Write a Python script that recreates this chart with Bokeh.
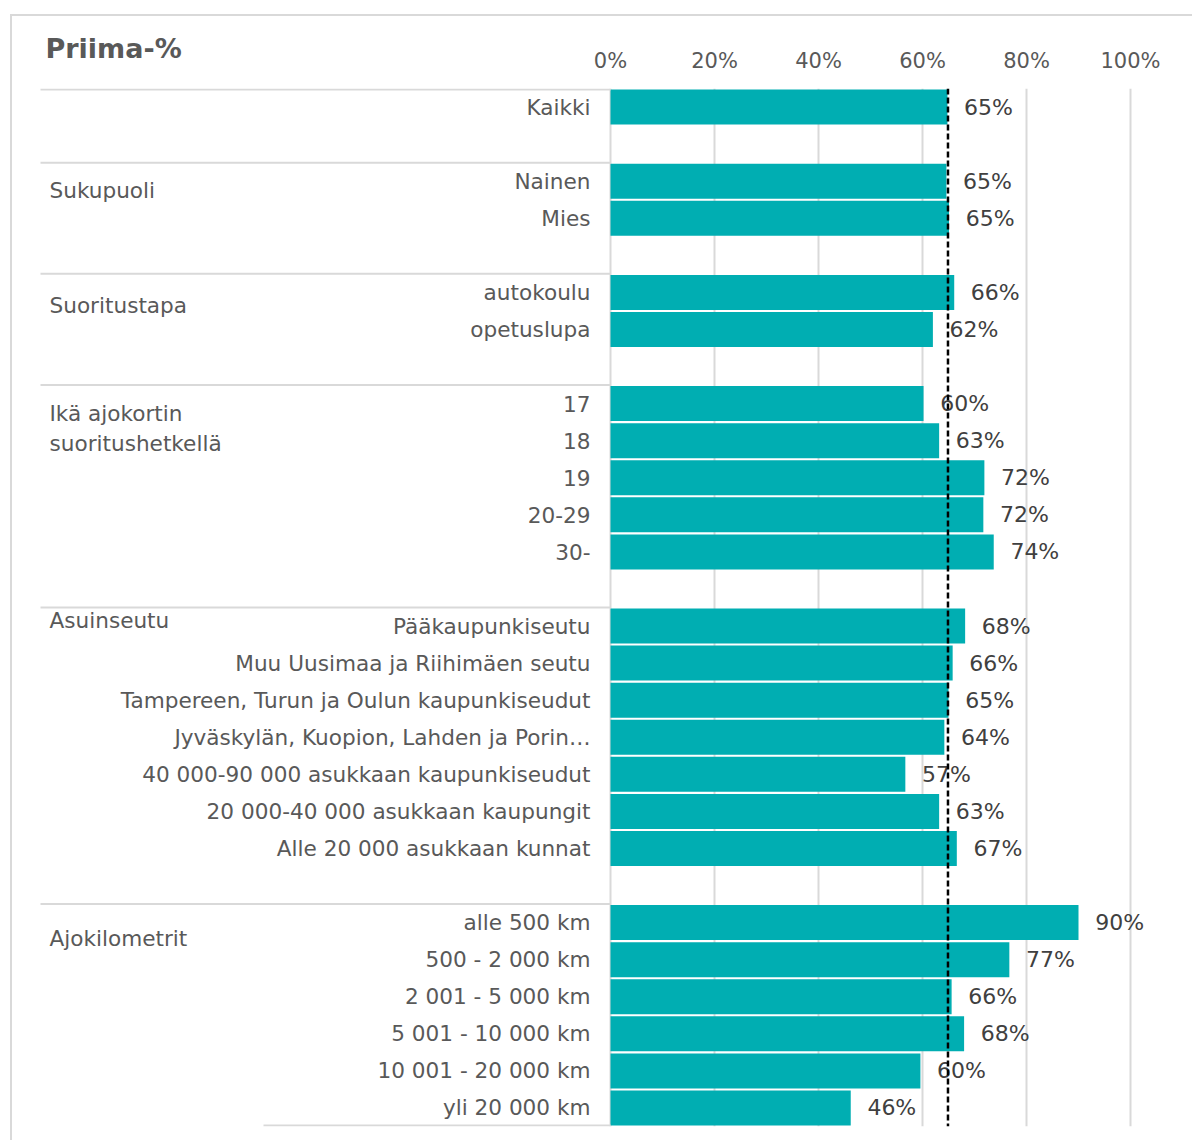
from bokeh.plotting import figure
from bokeh.models import Range1d, FixedTicker, Span, Title, ColumnDataSource
from bokeh.core.properties import value
from bokeh.embed import file_html
from bokeh.resources import INLINE

# ---------------- data ----------------
title_text = "Priima-%"
group_names = ["", "Sukupuoli", "Suoritustapa", "Ikä ajokortin\nsuoritushetkellä",
               "Asuinseutu", "Ajokilometrit"]

kaikki_cats = ["Kaikki"]
kaikki_vals = [64.8]

sukupuoli_cats = ["Nainen", "Mies"]
sukupuoli_vals = [64.6, 65.1]

suoritustapa_cats = ["autokoulu", "opetuslupa"]
suoritustapa_vals = [66.1, 62.0]

ika_cats = ["17", "18", "19", "20-29", "30-"]
ika_vals = [60.2, 63.2, 71.9, 71.7, 73.7]

asuinseutu_cats = ["Pääkaupunkiseutu", "Muu Uusimaa ja Riihimäen seutu",
                   "Tampereen, Turun ja Oulun kaupunkiseudut",
                   "Jyväskylän, Kuopion, Lahden ja Porin…",
                   "40 000-90 000 asukkaan kaupunkiseudut",
                   "20 000-40 000 asukkaan kaupungit",
                   "Alle 20 000 asukkaan kunnat"]
asuinseutu_vals = [68.2, 65.8, 65.0, 64.2, 56.7, 63.2, 66.6]

km_cats = ["alle 500 km", "500 - 2 000 km", "2 001 - 5 000 km", "5 001 - 10 000 km",
           "10 001 - 20 000 km", "yli 20 000 km"]
km_vals = [90.0, 76.7, 65.6, 68.0, 59.6, 46.2]

reference_value = 64.9
tick_values = [0, 20, 40, 60, 80, 100]
tick_labels = ["0%", "20%", "40%", "60%", "80%", "100%"]

groups = [
    (group_names[0], kaikki_cats, kaikki_vals),
    (group_names[1], sukupuoli_cats, sukupuoli_vals),
    (group_names[2], suoritustapa_cats, suoritustapa_vals),
    (group_names[3], ika_cats, ika_vals),
    (group_names[4], asuinseutu_cats, asuinseutu_vals),
    (group_names[5], km_cats, km_vals),
]

# ---------------- layout helpers (page pixel geometry) ----------------
OX, OY = 12, 16              # page position of the canvas (margin + border)
W, H = 1194 - OX, 1142 - OY
FRAME_TOP, FRAME_BOTTOM = 88, 1126   # page y of the plotting frame
PXU = 5.2                    # px per percent unit
ZERO_PAGE = 610              # page x of 0 %
N_ROWS = 28
ROW_PX = (FRAME_BOTTOM - FRAME_TOP) / N_ROWS
LABEL_SIZE = "21.6px"


def xu(page_x):
    return (page_x - ZERO_PAGE) / PXU


group_label_offsets = [0, 0.25, 0.35, 0.67, -0.15, 0.43]

rows, cats, vals, labels = [], [], [], []
sep_rows, grp_y, grp_text = [], [], []
r = 0
for gi, (gname, gc, gv) in enumerate(groups):
    sep_rows.append(r - 0.5)
    if gname:
        grp_y.append(r + group_label_offsets[gi])
        grp_text.append(gname)
    for c, v in zip(gc, gv):
        rows.append(r)
        cats.append(c)
        vals.append(v)
        labels.append(f"{round(v)}%")
        r += 1
    r += 1  # gap row

src = ColumnDataSource(dict(y=rows, cat=cats, val=vals, lab=labels,
                            lx=[v + 3.2 for v in vals]))

p = figure(width=W, height=H, output_backend="svg", toolbar_location=None,
           x_range=Range1d(xu(OX), xu(OX + W)),
           y_range=Range1d(N_ROWS - 0.5, -0.5),
           x_axis_location="above", y_axis_location=None,
           min_border_left=0, min_border_right=0,
           min_border_top=FRAME_TOP - OY, min_border_bottom=OY + H - FRAME_BOTTOM,
           outline_line_color=None, background_fill_color="white",
           border_fill_color="white")
p.styles = {"margin-left": "10px", "margin-top": "14px",
            "border-left": "2px solid #D9D9D9", "border-top": "2px solid #D9D9D9"}

p.title = Title(text=title_text, align="left", offset=45 - OX,
                text_font="DejaVu Sans", text_font_style="bold",
                text_font_size="27px", text_color="#595959", standoff=-36)

# axis
ticker = FixedTicker(ticks=tick_values)
ax = p.xaxis[0]
ax.ticker = ticker
ax.major_label_overrides = {t: l for t, l in zip(tick_values, tick_labels)}
ax.axis_line_color = None
ax.major_tick_line_color = None
ax.minor_tick_line_color = None
ax.major_label_text_font = "DejaVu Sans"
ax.major_label_text_font_size = "21px"
ax.major_label_text_color = "#595959"
ax.major_label_standoff = 10

p.xgrid.ticker = ticker
p.xgrid.grid_line_color = "#D9D9D9"
p.xgrid.grid_line_width = 2
p.ygrid.grid_line_color = None

# bars
p.hbar(y="y", left=0, right="val", height=0.945, source=src,
       fill_color="#00AEB2", line_color=None)

# reference dashed line
p.add_layout(Span(location=reference_value, dimension="height", line_color="black",
                  line_width=2.5, line_dash="6 3"))

# category labels
p.text(x=xu(590), y="y", text="cat", source=src, text_font=value("DejaVu Sans"),
       text_font_size=LABEL_SIZE, text_color="#595959", text_align="right",
       text_baseline="middle")

# data labels
p.text(x="lx", y="y", text="lab", source=src, text_font=value("DejaVu Sans"),
       text_font_size="22px", text_color="#404040", text_align="left",
       text_baseline="middle")

# group labels
p.text(x=xu(49), y=grp_y, text=grp_text, text_font=value("DejaVu Sans"),
       text_font_size=LABEL_SIZE, text_color="#595959", text_align="left",
       text_baseline="middle", text_line_height=1.2)

# separators
sep_y = [max(s, -0.47) for s in sep_rows]
p.segment(x0=xu(40), x1=0, y0=sep_y, y1=sep_y, line_color="#D9D9D9", line_width=2)
p.segment(x0=xu(263), x1=0, y0=N_ROWS - 0.53, y1=N_ROWS - 0.53,
          line_color="#D9D9D9", line_width=2)

open("out.html", "w").write(file_html(p, INLINE))
